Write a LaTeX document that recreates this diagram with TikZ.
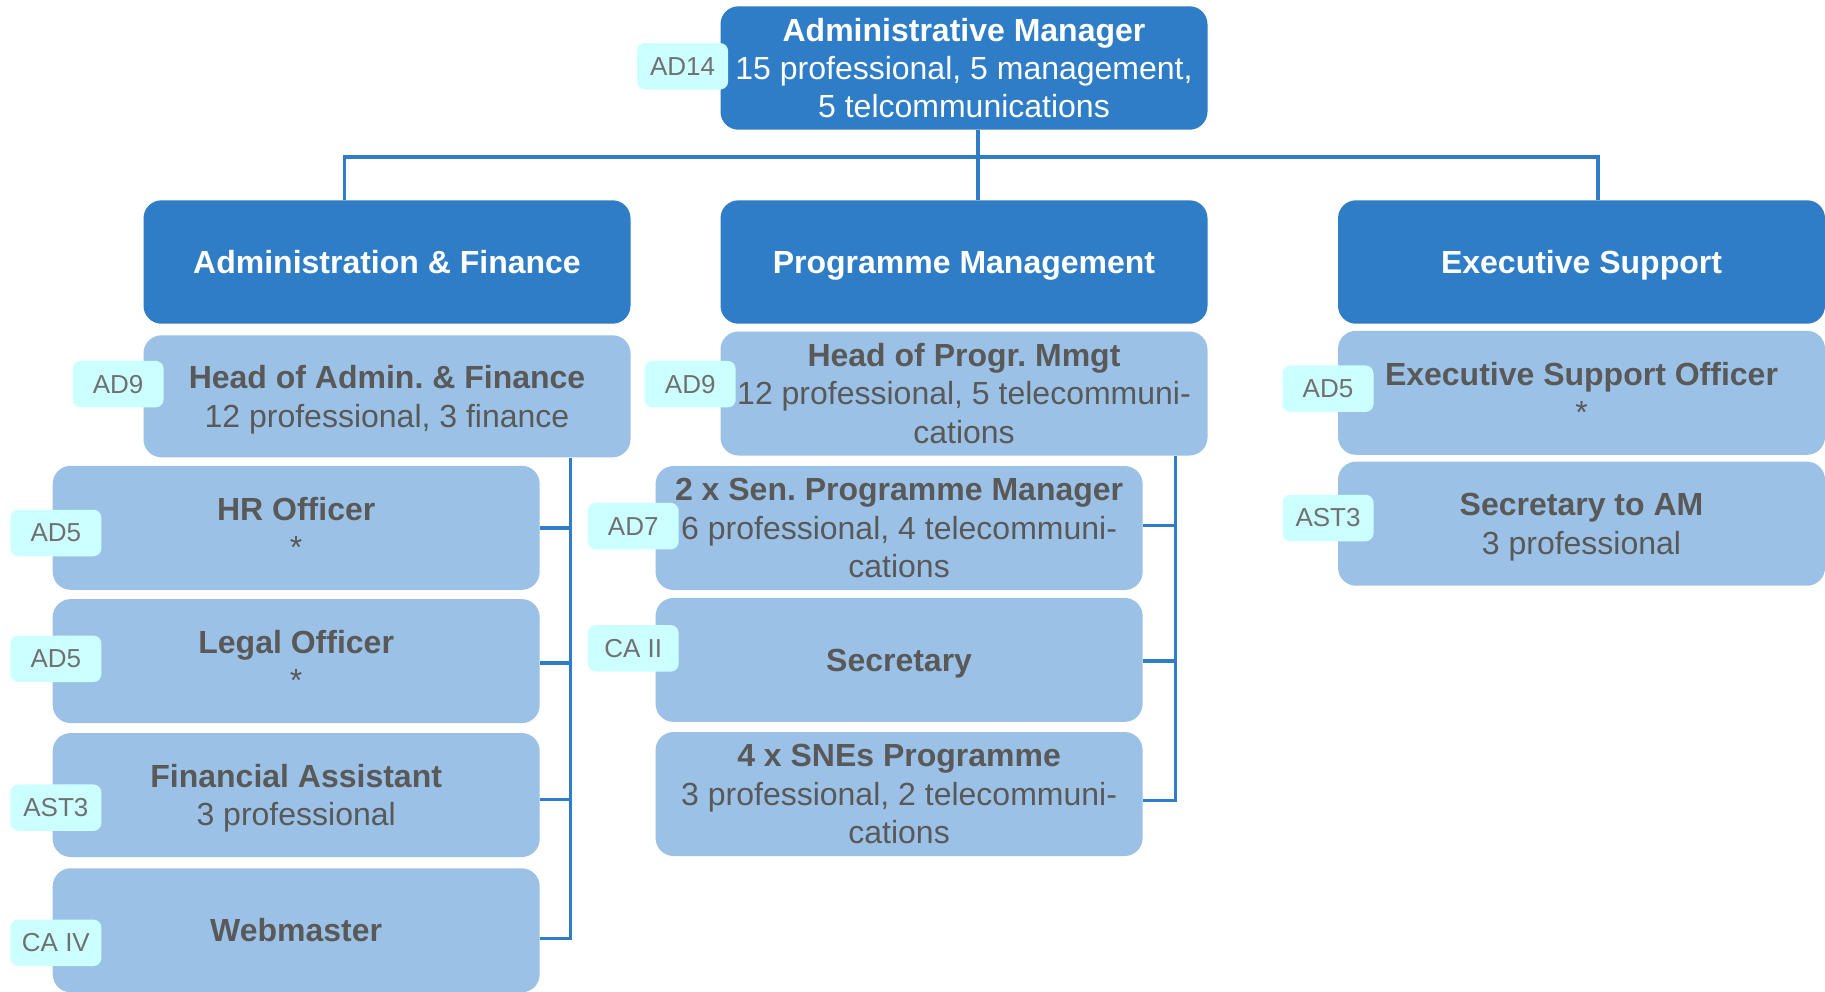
\documentclass[tikz,border=0pt]{standalone}
\usepackage{fontspec}
\setmainfont{Liberation Sans}
\frenchspacing
\definecolor{hdr}{HTML}{2E7DC6}
\definecolor{lbox}{HTML}{9BC2E6}
\definecolor{tagc}{HTML}{CCFFFF}
\definecolor{txt}{HTML}{595959}
\definecolor{tagtxt}{HTML}{707070}
\definecolor{ln}{HTML}{2E7DC6}
\newcommand\nodp[1]{\raisebox{0pt}[\height][0pt]{#1}}
\begin{document}
\begin{tikzpicture}[x=1pt,y=-1pt,
 hdrbox/.style={fill=hdr, rounded corners=18pt, minimum width=487pt, minimum height=123.4pt, text=white, font=\fontsize{32}{38.4}\selectfont\bfseries, align=center, inner sep=0pt},
 topbox/.style={hdrbox, font=\fontsize{32}{38.4}\selectfont},
 rolebox/.style={fill=lbox, rounded corners=18pt, minimum width=487pt, minimum height=124pt, text=txt, font=\fontsize{32}{38.4}\selectfont, align=center, inner sep=0pt},
 tagbox/.style={fill=tagc, rounded corners=8pt, minimum width=91pt, minimum height=46.5pt, text=tagtxt, font=\fontsize{26}{30}\selectfont, inner sep=0pt},
 conn/.style={draw=ln, line width=3.6pt}]
\fill[white] (0,0) rectangle (1825,991);
\useasboundingbox (0,0) rectangle (1825,991);

% top
\node[topbox] (am) at (964,68) {\textbf{Administrative Manager}\\15 professional, 5 management,\\5 telcommunications};
\node[tagbox] (tam) at (682.6,66.3) {AD14};

% headers
\node[hdrbox] (af) at (387,262) {Administration \& Finance};
\node[hdrbox] (pm) at (964,262) {\nodp{Programme Management}};
\node[hdrbox] (es) at (1581.5,262) {\nodp{Executive Support}};

% Administration & Finance
\node[rolebox, minimum height=122pt] (hoaf) at (387,396.3) {\textbf{Head of Admin. \& Finance}\\\nodp{12 professional, 3 finance}};
\node[tagbox] (thoaf) at (118.1,384.1) {AD9};
\node[rolebox] (hr) at (296.2,527.8) {\textbf{HR Officer}\\*};
\node[tagbox] (thr) at (55.9,533) {AD5};
\node[rolebox] (legal) at (296.2,661.1) {\textbf{Legal Officer}\\*};
\node[tagbox] (tlegal) at (55.9,658.8) {AD5};
\node[rolebox] (fa) at (296.2,795) {\textbf{Financial Assistant}\\\nodp{3 professional}};
\node[tagbox] (tfa) at (55.9,807.7) {AST3};
\node[rolebox] (web) at (296.2,930.3) {\textbf{Webmaster}};
\node[tagbox] (tweb) at (55.9,942.8) {CA IV};

% Programme Management
\node[rolebox] (hopm) at (964,393.5) {\textbf{Head of Progr. Mmgt}\\12 professional, 5 telecommuni-\\cations};
\node[tagbox] (thopm) at (690.2,384.1) {AD9};
\node[rolebox] (spm) at (899.1,528) {\textbf{2 x Sen. Programme Manager}\\6 professional, 4 telecommuni-\\cations};
\node[tagbox] (tspm) at (633.2,526.1) {AD7};
\node[rolebox] (sec) at (899.1,659.9) {\textbf{\nodp{Secretary}}};
\node[tagbox] (tsec) at (633.2,648.3) {CA II};
\node[rolebox] (sne) at (899.1,794) {\textbf{4 x SNEs Programme}\\3 professional, 2 telecommuni-\\cations};

% Executive Support
\node[rolebox] (eso) at (1581.5,392.8) {\textbf{Executive Support Officer}\\*};
\node[tagbox] (teso) at (1328,388.7) {AD5};
\node[rolebox] (sam) at (1581.5,523.7) {\textbf{Secretary to AM}\\\nodp{3 professional}};
\node[tagbox] (tsam) at (1328,518) {AST3};

% connectors
\coordinate (busL) at (344.5,157.1);
\coordinate (busM) at (977.7,157.1);
\coordinate (busR) at (1598,157.1);
\coordinate (afx) at (570.3,0);
\coordinate (pmx) at (1175.5,0);

\draw[conn] (am.south -| busM) -- (busM) -- (pm.north -| busM);
\draw[conn] (af.north -| busL) -- (busL) -- (busR) -- (es.north -| busR);

\draw[conn] (hoaf.south -| afx) |- ([yshift=-8pt]web.east);
\draw[conn] (hr.east) -- (hr.east -| afx);
\draw[conn] ([yshift=-2pt]legal.east) -- ([yshift=-2pt]legal.east -| afx);
\draw[conn] ([yshift=-4.5pt]fa.east) -- ([yshift=-4.5pt]fa.east -| afx);

\draw[conn] (hopm.south -| pmx) |- ([yshift=-6.4pt]sne.east);
\draw[conn] ([yshift=2.4pt]spm.east) -- ([yshift=2.4pt]spm.east -| pmx);
\draw[conn] ([yshift=-1.2pt]sec.east) -- ([yshift=-1.2pt]sec.east -| pmx);
\end{tikzpicture}
\end{document}
